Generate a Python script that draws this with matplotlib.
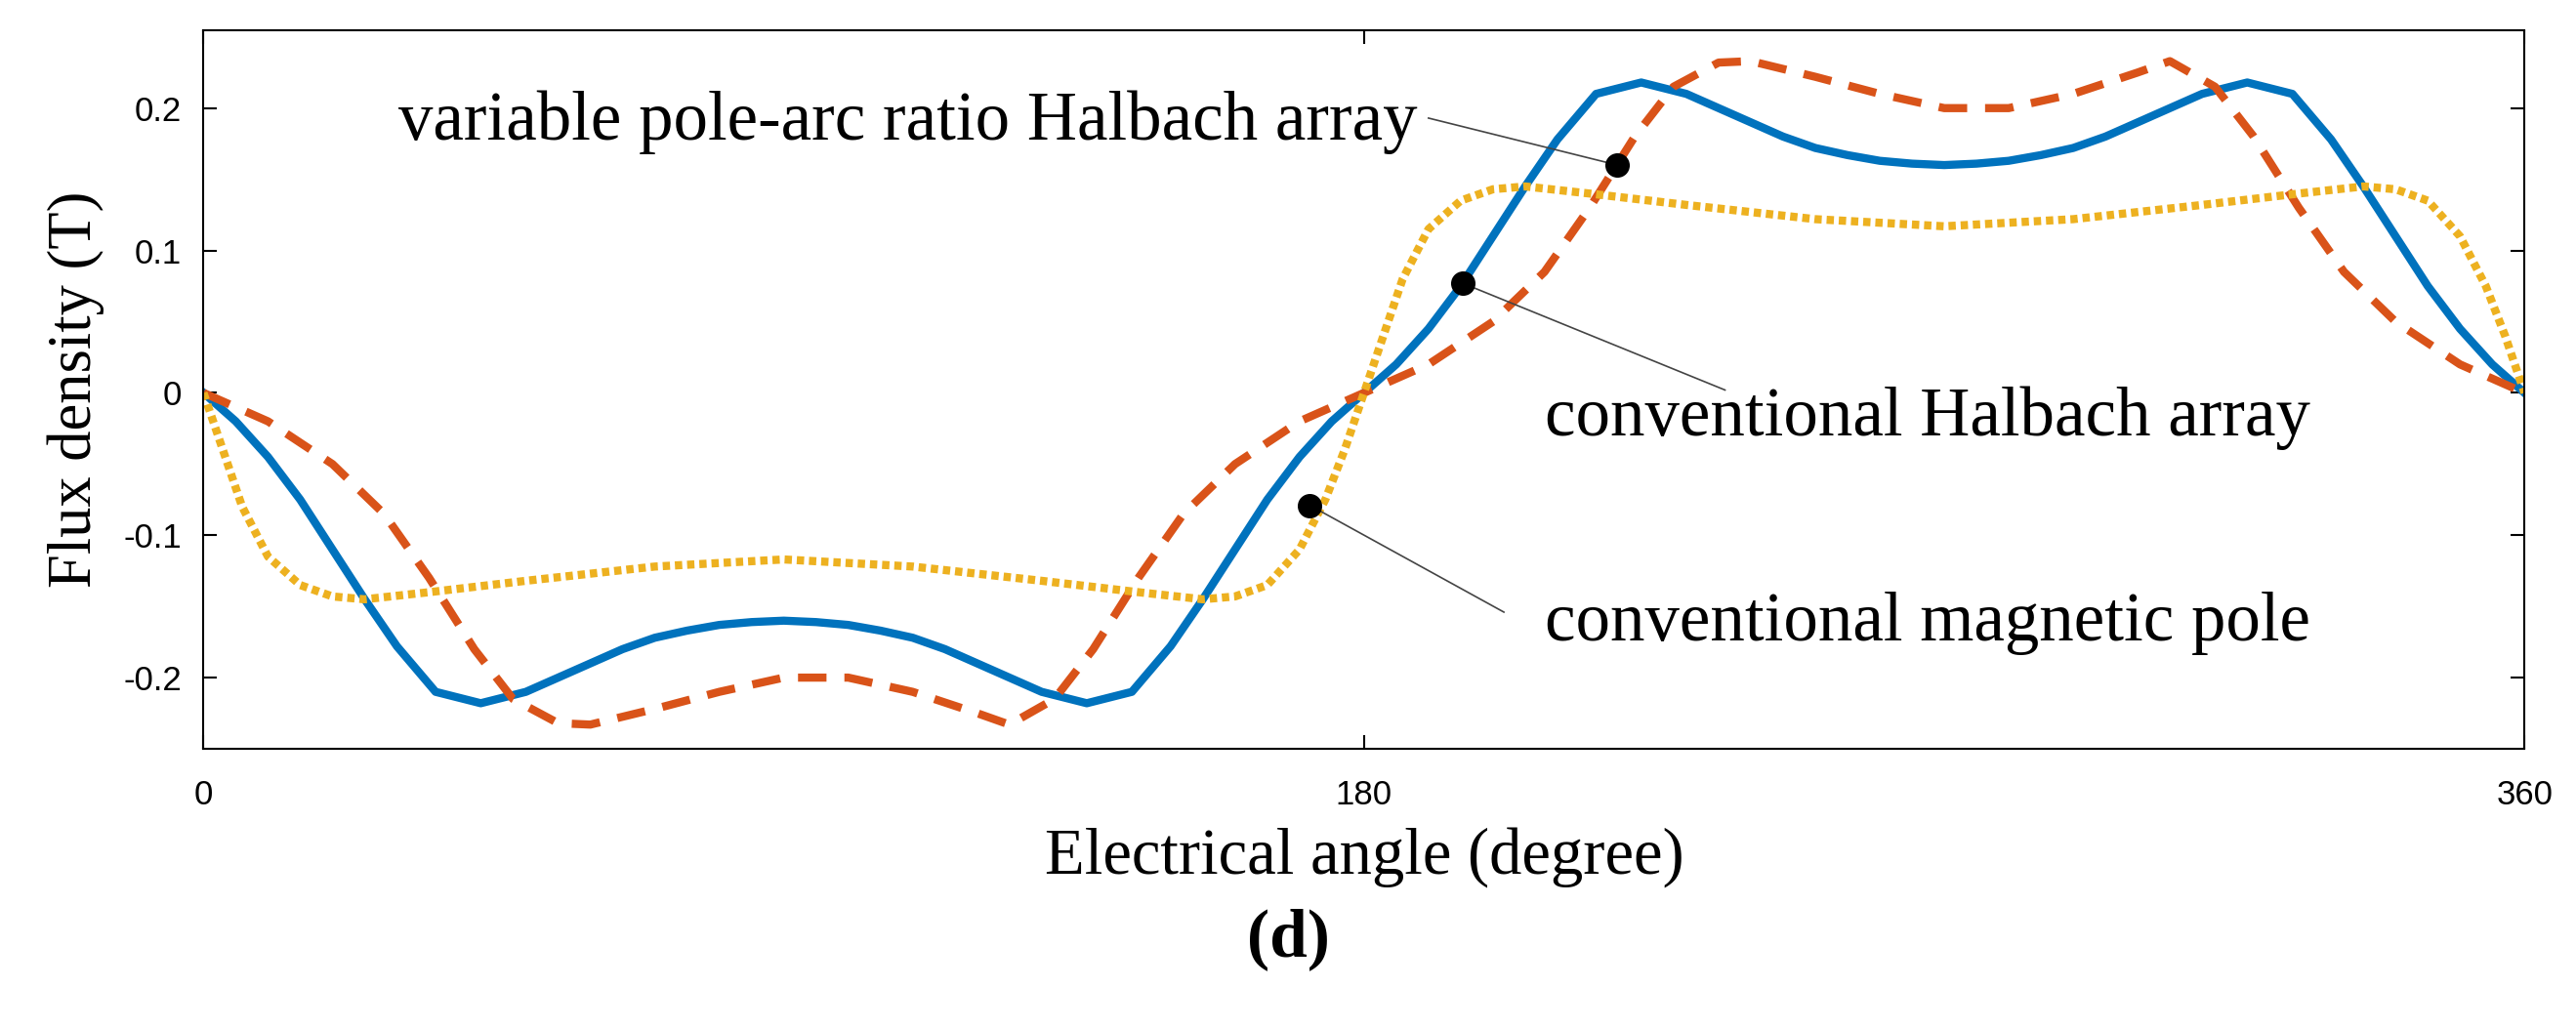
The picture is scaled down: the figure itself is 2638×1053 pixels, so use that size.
import numpy as np
import matplotlib.pyplot as plt

BLUE = "#0072BD"
ORANGE = "#D95319"
YELLOW = "#EDB120"

angle_half = [0, 5, 10, 15, 20, 25, 30, 36, 43, 50, 55, 60, 65, 70, 75, 80, 85, 90,
              95, 100, 105, 110, 115, 120, 125, 130, 137, 144, 150, 155, 160, 165, 170, 175, 180]
blue_half = [0, -0.02, -0.045, -0.075, -0.11, -0.145, -0.178, -0.21, -0.218, -0.21, -0.2, -0.19,
             -0.18, -0.172, -0.167, -0.163, -0.161, -0.16, -0.161, -0.163, -0.167, -0.172, -0.18,
             -0.19, -0.2, -0.21, -0.218, -0.21, -0.178, -0.145, -0.11, -0.075, -0.045, -0.02, 0]

orange_angle = [0, 10, 20, 28, 35, 42, 48, 55, 60, 70, 80, 90, 100, 110, 120, 125, 132, 138,
                145, 152, 160, 170, 180]
orange_half = [0, -0.02, -0.05, -0.085, -0.13, -0.18, -0.215, -0.232, -0.233, -0.222, -0.21,
               -0.2, -0.2, -0.21, -0.225, -0.233, -0.215, -0.18, -0.13, -0.085, -0.05, -0.02, 0]

yellow_angle = [0, 3, 6, 10, 15, 20, 25, 35, 50, 70, 90, 110, 130, 145, 155, 160, 165, 170,
                174, 177, 180]
yellow_half = [0, -0.04, -0.08, -0.115, -0.135, -0.143, -0.145, -0.14, -0.132, -0.122, -0.117,
               -0.122, -0.132, -0.14, -0.145, -0.143, -0.135, -0.11, -0.075, -0.04, 0]


def full_wave(a, v):
    a = np.array(a, float)
    v = np.array(v, float)
    return np.concatenate([a, a[1:] + 180]), np.concatenate([v, -v[1:]])


fig = plt.figure(figsize=(26.38, 10.53), dpi=100)
ax = fig.add_axes([0.079, 0.2716, 0.901, 0.6994])

xb, yb = full_wave(angle_half, blue_half)
xo, yo = full_wave(orange_angle, orange_half)
xy, yy = full_wave(yellow_angle, yellow_half)
ax.plot(xb, yb, color=BLUE, lw=6)
ax.plot(xo, yo, color=ORANGE, lw=6, ls=(0, (3.5, 2.2)))
ax.plot(xy, yy, color=YELLOW, lw=6, ls=(0, (0.9, 0.6)))

ax.set_xlim(0, 360)
ax.set_ylim(-0.25, 0.255)
ax.set_xticks([0, 180, 360])
ax.set_xticklabels(["0", "180", "360"])
ax.set_yticks([-0.2, -0.1, 0, 0.1, 0.2])
ax.set_yticklabels(["-0.2", "-0.1", "0", "0.1", "0.2"])
ax.tick_params(direction="in", length=10, width=1.5, labelsize=25, right=True, top=True)
ax.tick_params(axis="x", pad=22)
ax.tick_params(axis="y", pad=16)
for lab in ax.get_xticklabels() + ax.get_yticklabels():
    lab.set_fontfamily("Liberation Sans")
for s in ax.spines.values():
    s.set_linewidth(1.5)

serif = "Liberation Serif"
ax.set_xlabel("Electrical angle (degree)", fontsize=48, family=serif, labelpad=12)
ax.set_ylabel("Flux density (T)", fontsize=45, family=serif, labelpad=14)

# annotated points
dots = [(171.6, -0.079, 201.7, -0.154, 208, -0.162, "conventional magnetic pole"),
        (195.3, 0.077, 236, 0.002, 208, -0.018, "conventional Halbach array"),
        (219.3, 0.16, 190, 0.193, 30.3, 0.19, "variable pole-arc ratio Halbach array")]
for px, py, lx, ly, tx, ty, txt in dots:
    ax.plot([px, lx], [py, ly], color="#444444", lw=1.2)
    ax.plot(px, py, "o", color="black", ms=17, zorder=5)
    ax.text(tx, ty, txt, fontsize=51, family=serif, va="center", ha="left")

fig.text(0.5, 0.07, "(d)", fontsize=50, family=serif, fontweight="bold", ha="center")

fig.savefig("out.png", dpi=100)
